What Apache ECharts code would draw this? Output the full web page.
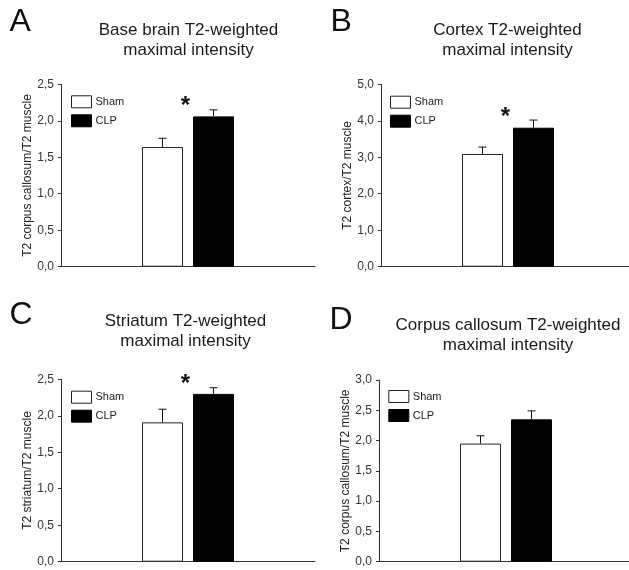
<!DOCTYPE html>
<html>
<head>
<meta charset="utf-8">
<style>
  html, body { margin: 0; padding: 0; background: #fff; }
  #chart { width: 629px; height: 570px; }
</style>
<script src="https://cdn.jsdelivr.net/npm/echarts@6/dist/echarts.min.js"></script>
</head>
<body>
<div id="chart"></div>
<script>
// ---------- data ----------
const panelLetters = ['A', 'B', 'C', 'D'];
const panelTitles = [
  'Base brain T2-weighted\nmaximal intensity',
  'Cortex T2-weighted\nmaximal intensity',
  'Striatum T2-weighted\nmaximal intensity',
  'Corpus callosum T2-weighted\nmaximal intensity'
];
const yAxisNames = [
  'T2 corpus callosum/T2 muscle',
  'T2 cortex/T2 muscle',
  'T2 striatum/T2 muscle',
  'T2 corpus callosum/T2 muscle'
];
const categories = [''];
const groupNames = ['Sham', 'CLP'];
const yMax = [2.5, 5.0, 2.5, 3.0];
const yInterval = [0.5, 1.0, 0.5, 0.5];
const shamMean = [1.64, 3.09, 1.91, 1.95];
const shamSem  = [0.12, 0.19, 0.18, 0.13];
const clpMean  = [2.06, 3.81, 2.30, 2.35];
const clpSem   = [0.09, 0.21, 0.085, 0.14];
const significant = [true, true, true, false];

// ---------- layout / style ----------
const FONT = '"Liberation Sans", Arial, Helvetica, sans-serif';
const BAR_W = 41, BAR_GAP = 10, CAP_W = 8;
const grids = [
  { left: 61,  top: 84.3,  width: 254, height: 182.4 },
  { left: 381, top: 84.3,  width: 254, height: 182.4 },
  { left: 61,  top: 379.3, width: 254, height: 182.4 },
  { left: 379, top: 380,   width: 254, height: 181.7 }
];
const titlePos = [
  { x: 188.5, y: 20 }, { x: 507.5, y: 20 },
  { x: 185.5, y: 311.7 }, { x: 508, y: 315 }
];
const letterPos = [
  { x: 9.5, y: 22.5 }, { x: 330.5, y: 22.5 },
  { x: 9.5, y: 315.3 }, { x: 329.5, y: 320.5 }
];
const legendPos = [
  { left: 71, top: 95.3 }, { left: 390, top: 95.7 },
  { left: 71, top: 390.7 }, { left: 388.3, top: 390 }
];

function fmt(v) { return v.toFixed(1).replace('.', ','); }

function renderErr(params, api) {
  const cat = api.value(0), m = api.value(1), e = api.value(2);
  const side = api.value(3), sig = api.value(4);
  const base = api.coord([cat, m]);
  const top = api.coord([cat, m + e]);
  const x = base[0] + side * (BAR_W + BAR_GAP) / 2;
  const lineStyle = { stroke: '#111', lineWidth: 1 };
  const children = [
    { type: 'line', shape: { x1: x, y1: base[1], x2: x, y2: top[1] }, style: lineStyle },
    { type: 'line', shape: { x1: x - CAP_W / 2, y1: top[1], x2: x + CAP_W / 2, y2: top[1] }, style: lineStyle }
  ];
  if (sig) {
    children.push({
      type: 'text',
      style: {
        x: base[0] - 2.5, y: top[1] - 8 + 5, text: '*',
        font: 'bold 24px ' + FONT, fill: '#111',
        textAlign: 'center', textVerticalAlign: 'middle'
      }
    });
  }
  return { type: 'group', children: children };
}

const option = {
  backgroundColor: '#fff',
  animation: false,
  title: panelTitles.map((t, i) => ({
    text: t, left: titlePos[i].x, top: titlePos[i].y, textAlign: 'center', padding: 0,
    textStyle: { fontFamily: FONT, fontSize: 17, fontWeight: 'normal', color: '#1a1a1a', lineHeight: 20 }
  })),
  graphic: panelLetters.map((l, i) => ({
    type: 'text', x: letterPos[i].x, y: letterPos[i].y,
    style: { text: l, font: '32px ' + FONT, fill: '#111', textVerticalAlign: 'middle' }
  })),
  legend: legendPos.map((p) => ({
    left: p.left, top: p.top, orient: 'vertical', padding: 0,
    itemWidth: 20, itemHeight: 12, itemGap: 6, icon: 'rect', selectedMode: false,
    textStyle: { fontFamily: FONT, fontSize: 11, color: '#222', padding: [0, 0, 0, -1] },
    data: [
      { name: groupNames[0], itemStyle: { color: '#fff', borderColor: '#222', borderWidth: 1 } },
      { name: groupNames[1], itemStyle: { color: '#000', borderColor: '#000', borderWidth: 1 } }
    ]
  })),
  grid: grids.map(g => Object.assign({ containLabel: false, outerBoundsMode: 'none' }, g)),
  xAxis: grids.map((g, i) => ({
    type: 'category', gridIndex: i, data: categories,
    axisLine: { show: true, lineStyle: { color: '#333', width: 1 } },
    axisTick: { show: false }, axisLabel: { show: false }, splitLine: { show: false }
  })),
  yAxis: grids.map((g, i) => ({
    type: 'value', gridIndex: i, min: 0, max: yMax[i], interval: yInterval[i],
    name: yAxisNames[i], nameLocation: 'middle', nameRotate: 90, nameGap: 27,
    nameTextStyle: { fontFamily: FONT, fontSize: 12, color: '#222' },
    axisLine: { show: true, lineStyle: { color: '#333', width: 1 } },
    axisTick: { show: true, length: 3, inside: false, lineStyle: { color: '#333' } },
    axisLabel: { fontFamily: FONT, fontSize: 12, color: '#333', margin: 7, formatter: fmt },
    splitLine: { show: false }
  })),
  series: []
};

for (let i = 0; i < 4; i++) {
  option.series.push({
    type: 'bar', name: groupNames[0], xAxisIndex: i, yAxisIndex: i,
    data: [shamMean[i]], barWidth: BAR_W, barGap: (BAR_GAP / BAR_W * 100) + '%',
    itemStyle: { color: '#fff', borderColor: '#222', borderWidth: 1 }
  });
  option.series.push({
    type: 'bar', name: groupNames[1], xAxisIndex: i, yAxisIndex: i,
    data: [clpMean[i]], barWidth: BAR_W, barGap: (BAR_GAP / BAR_W * 100) + '%',
    itemStyle: { color: '#000', borderColor: '#000', borderWidth: 1 }
  });
  option.series.push({
    type: 'custom', xAxisIndex: i, yAxisIndex: i, renderItem: renderErr, z: 5,
    encode: { x: 0, y: 1 }, silent: true,
    data: [
      [0, shamMean[i], shamSem[i], -1, 0],
      [0, clpMean[i], clpSem[i], 1, significant[i] ? 1 : 0]
    ]
  });
}

const chart = echarts.init(document.getElementById('chart'), null, { renderer: 'canvas' });
chart.setOption(option);
</script>
</body>
</html>
